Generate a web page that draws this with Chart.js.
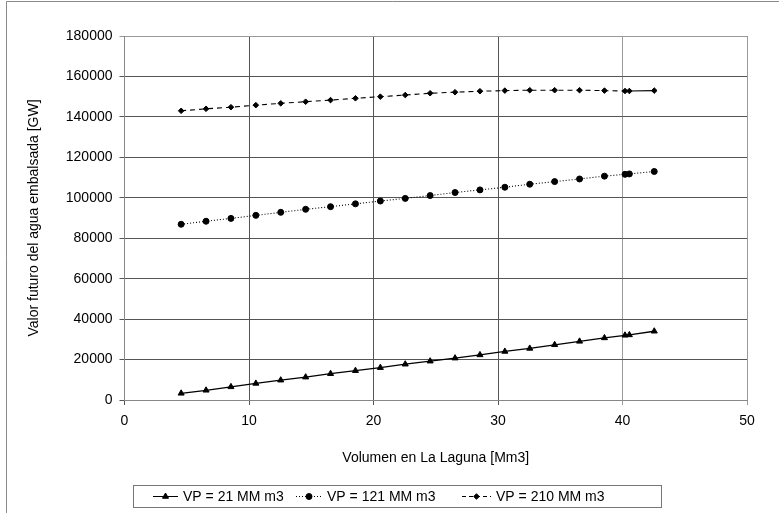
<!DOCTYPE html>
<html>
<head>
<meta charset="utf-8">
<script src="https://cdn.jsdelivr.net/npm/chart.js@4.4.1/dist/chart.umd.min.js"></script>
<style>
  html, body { margin: 0; padding: 0; background: #fff; }
  #wrap { width: 779px; height: 513px; position: relative; }
</style>
</head>
<body>
<div id="wrap"><canvas id="chart"></canvas></div>
<script>
// volumen en la laguna [Mm3]
const volumen = [4.55, 6.55, 8.55, 10.55, 12.55, 14.55, 16.55, 18.55, 20.55, 22.55,
  24.55, 26.55, 28.55, 30.55, 32.55, 34.55, 36.55, 38.55, 40.2, 40.55, 42.55];

const vp21 = [3300, 4800, 6500, 8200, 9800, 11300, 13000, 14500, 16000, 17700,
  19200, 20700, 22300, 24000, 25500, 27300, 29000, 30700, 32000, 32200, 34000];

const vp121 = [86900, 88400, 89800, 91300, 92800, 94300, 95600, 97000, 98400, 99700,
  101100, 102600, 103900, 105200, 106700, 108000, 109300, 110700, 111600, 111800, 113000];

const vp210 = [143000, 144000, 144800, 145800, 146700, 147500, 148300, 149200, 150000, 150800,
  151700, 152200, 152700, 153000, 153200, 153200, 153200, 153000, 152800, 152800, 153000];

const seriesNames = ["VP = 21 MM m3", "VP = 121 MM m3", "VP = 210 MM m3"];
const xTicks = [0, 10, 20, 30, 40, 50];
const yTicks = [0, 20000, 40000, 60000, 80000, 100000, 120000, 140000, 160000, 180000];

const toPts = ys => ys.map((y, i) => ({ x: volumen[i], y: y }));
const FONT = "'Liberation Sans', Arial, sans-serif";

const styles = [
  { dash: [], point: "triangle", radius: 3.5 },
  { dash: [1, 2], point: "circle", radius: 3 },
  { dash: [5, 4], point: "rectRot", radius: 2.8 },
];

// frame + legend box like the original spreadsheet export
const extras = {
  id: "extras",
  afterDraw(chart) {
    const c = chart.ctx;
    c.save();
    c.strokeStyle = "#8a8a8a";
    c.lineWidth = 1;
    c.beginPath();
    c.moveTo(6.5, 513);
    c.lineTo(6.5, 1.5);
    c.lineTo(779, 1.5);
    c.stroke();

    // legend
    c.strokeStyle = "#777";
    c.strokeRect(133.5, 485.5, 528, 22);
    c.font = "14px " + FONT;
    c.fillStyle = "#000";
    c.textBaseline = "middle";
    const items = [
      { x0: 153, x1: 178, tx: 183 },
      { x0: 296, x1: 322, tx: 327 },
      { x0: 462, x1: 491, tx: 496 },
    ];
    items.forEach((it, k) => {
      const s = styles[k];
      const y = 496.5;
      c.strokeStyle = "#000";
      c.lineWidth = 1;
      c.setLineDash(k === 2 ? [4, 3] : s.dash);
      c.beginPath();
      c.moveTo(it.x0, y);
      c.lineTo(it.x1, y);
      c.stroke();
      c.setLineDash([]);
      Chart.helpers.drawPoint(c, { pointStyle: s.point, radius: s.radius, borderWidth: 1 },
        (it.x0 + it.x1) / 2, y);
      c.fillText(seriesNames[k], it.tx, y + 0.5);
    });
    c.restore();
  },
};

const datasets = [vp21, vp121, vp210].map((ys, k) => {
  const s = styles[k];
  return {
    label: seriesNames[k],
    data: toPts(ys),
    showLine: true,
    borderColor: "#000",
    backgroundColor: "#000",
    borderWidth: k === 0 ? 1.3 : 1.1,
    borderDash: s.dash,
    pointStyle: s.point,
    pointRadius: s.radius,
    pointBorderWidth: 1,
    pointBackgroundColor: "#000",
    pointBorderColor: "#000",
    segment: k === 2 ? {
      borderDash: ctx => (ctx.p1DataIndex === volumen.length - 1 ? [] : [5, 4]),
    } : undefined,
  };
});

new Chart(document.getElementById("chart"), {
  type: "scatter",
  data: { datasets: datasets },
  plugins: [extras],
  options: {
    responsive: true,
    maintainAspectRatio: false,
    animation: false,
    layout: { padding: { top: 36, right: 32, bottom: 43, left: 0 } },
    plugins: {
      legend: { display: false },
      tooltip: { enabled: false },
    },
    scales: {
      x: {
        type: "linear",
        min: 0,
        max: 50,
        afterFit: s => { s.height = 70; },
        afterBuildTicks: s => { s.ticks = xTicks.map(v => ({ value: v })); },
        grid: {
          color: ctx => (ctx.tick && ctx.tick.value === 50 ? "#999" : (ctx.tick && ctx.tick.value === 40 ? "#9a9a9a" : "#555")),
          tickLength: 5,
          lineWidth: 1,
        },
        border: { color: "#888" },
        ticks: {
          color: "#000",
          font: { family: FONT, size: 14 },
          padding: 8,
          callback: v => String(v),
        },
        title: {
          display: true,
          text: "Volumen en La Laguna [Mm3]",
          color: "#000",
          font: { family: FONT, size: 14 },
          padding: { top: 4, bottom: 3 },
        },
      },
      y: {
        min: 0,
        max: 180000,
        afterFit: s => { s.width = 124.5; },
        afterBuildTicks: s => { s.ticks = yTicks.map(v => ({ value: v })); },
        grid: {
          color: ctx => (ctx.tick && ctx.tick.value === 180000 ? "#999" : "#555"),
          tickLength: 5,
          lineWidth: 1,
        },
        border: { color: "#888" },
        ticks: {
          color: "#000",
          font: { family: FONT, size: 14 },
          padding: 7,
          callback: v => String(v),
        },
        title: {
          display: true,
          text: "Valor futuro del agua embalsada [GW]",
          color: "#000",
          font: { family: FONT, size: 14 },
          padding: { top: 26, bottom: 0 },
        },
      },
    },
  },
});
</script>
</body>
</html>
